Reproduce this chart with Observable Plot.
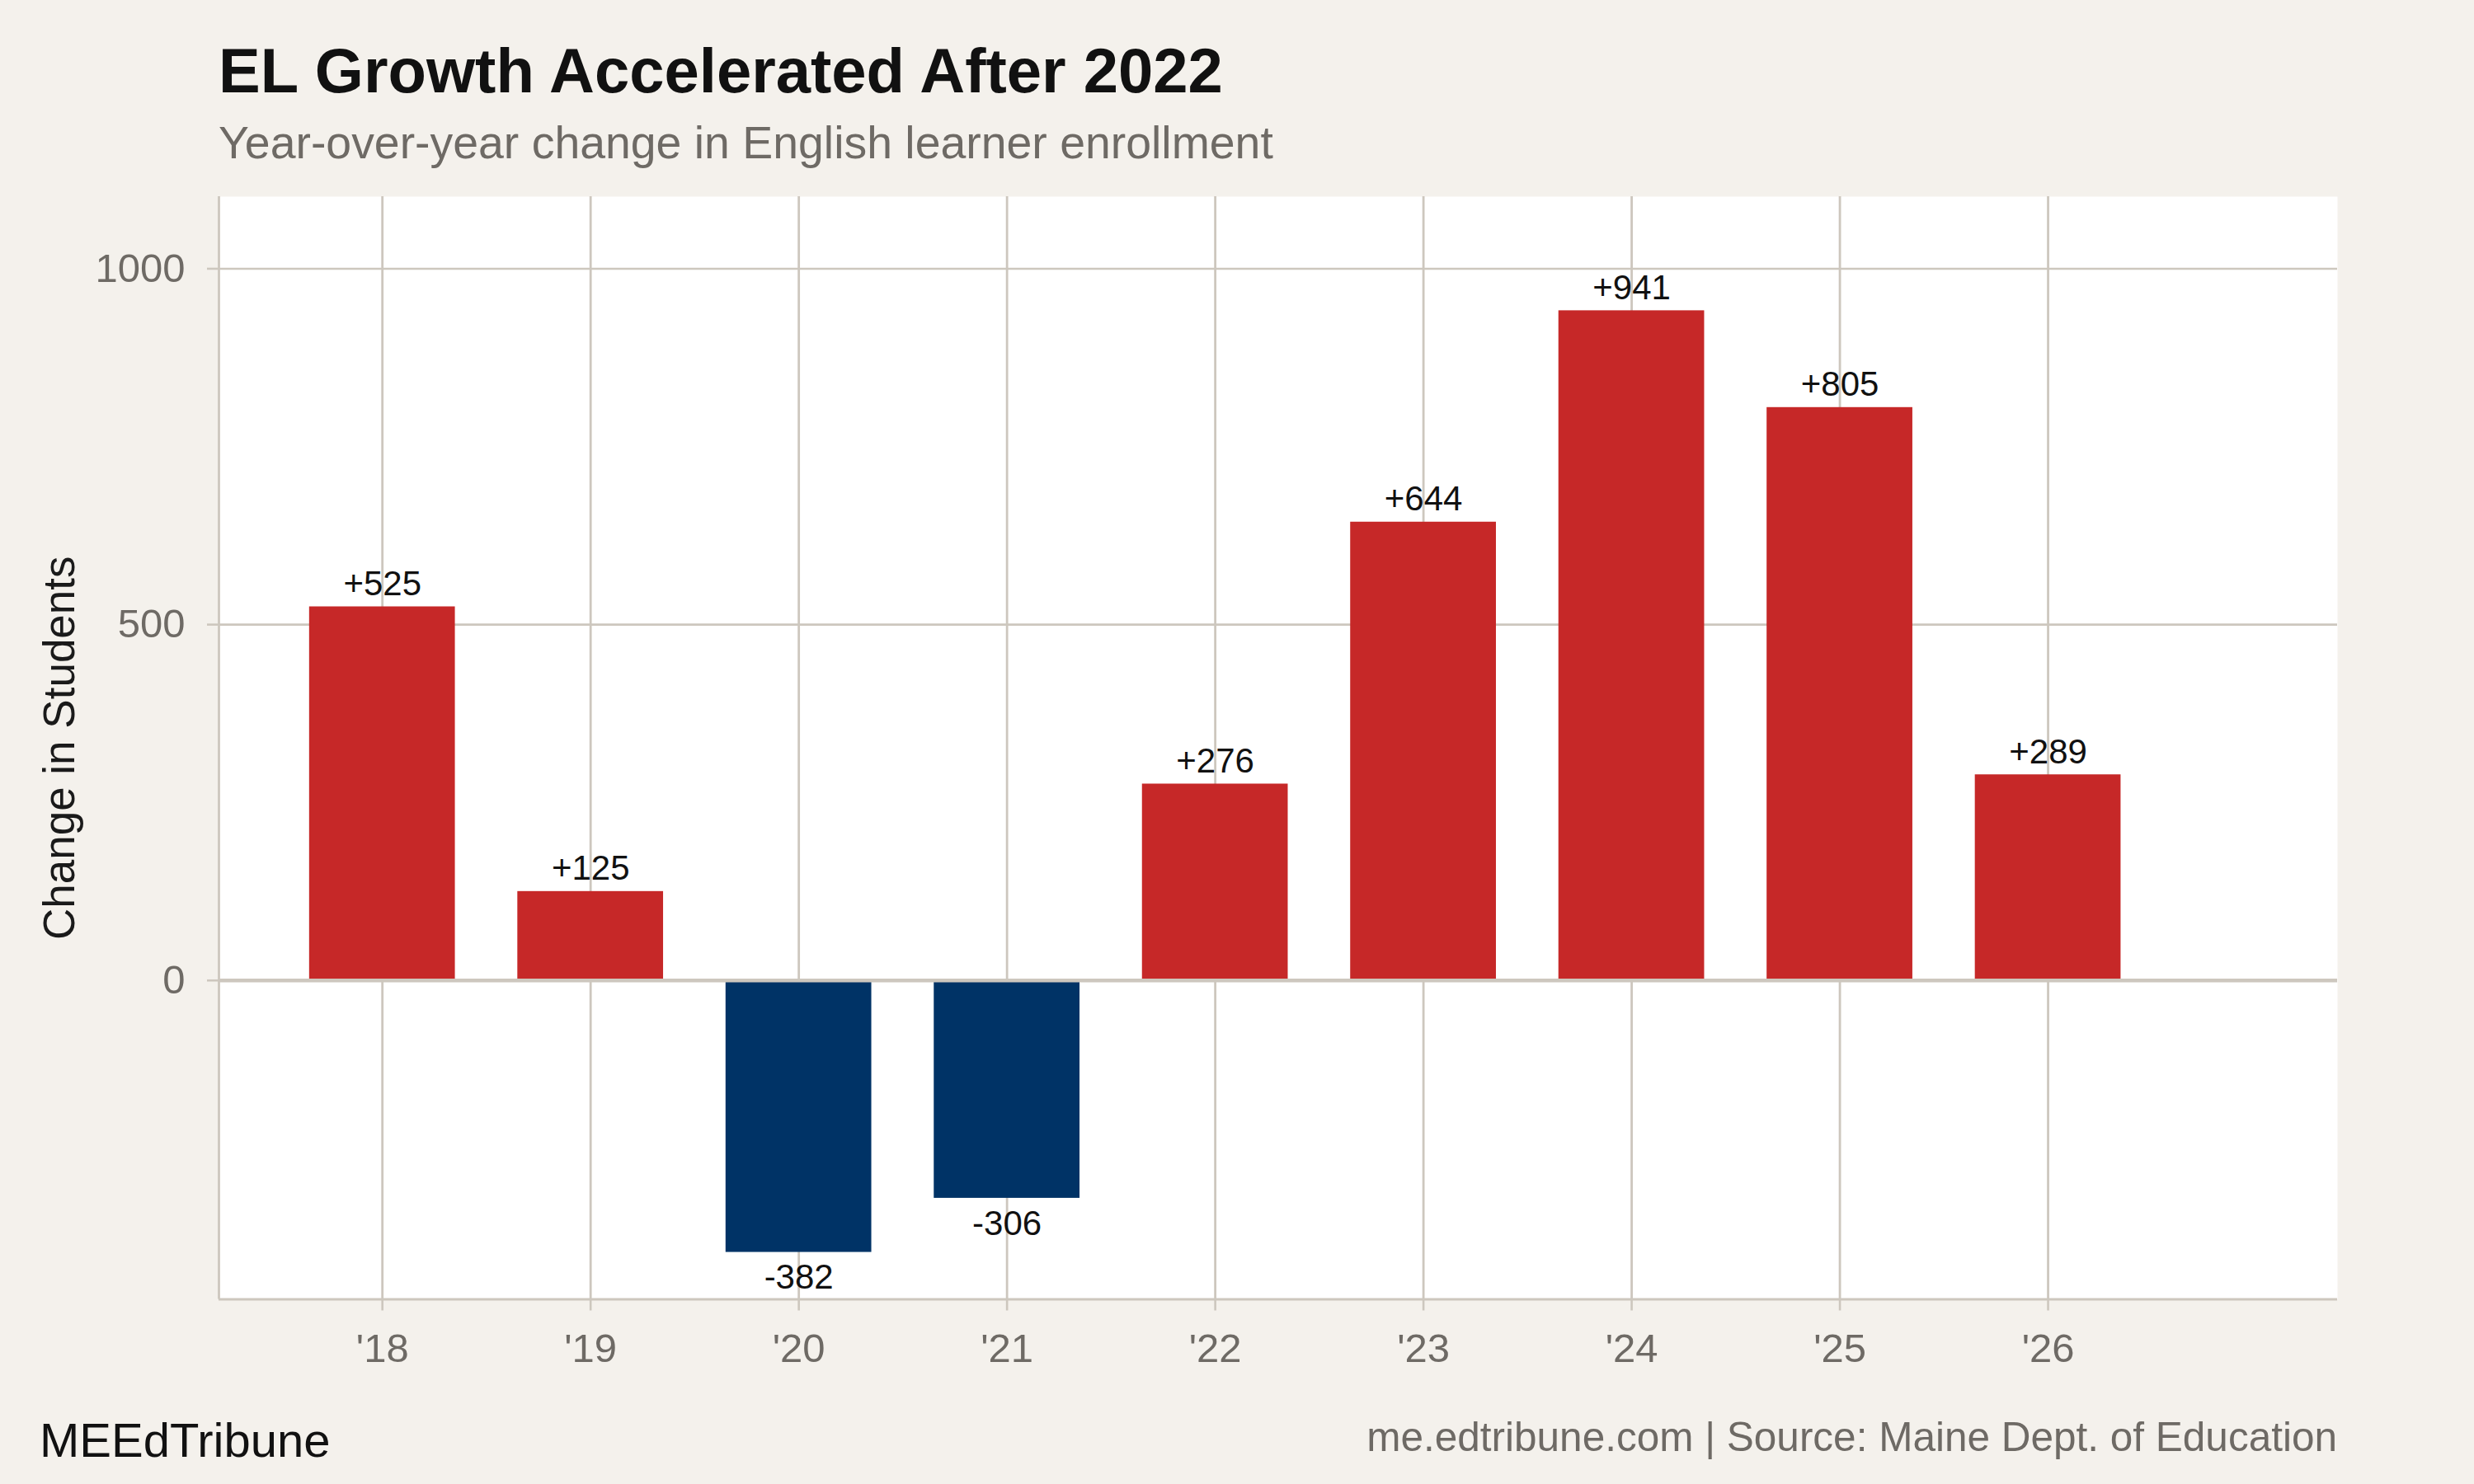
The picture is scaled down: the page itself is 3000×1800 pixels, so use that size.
<!DOCTYPE html>
<html>
<head>
<meta charset="utf-8">
<script src="https://cdn.jsdelivr.net/npm/d3@7"></script>
<script src="https://cdn.jsdelivr.net/npm/@observablehq/plot@0.6"></script>
<style>
  html, body { margin: 0; padding: 0; background: #f4f1ec; }
  #page {
    position: relative;
    width: 3000px;
    height: 1800px;
    background: #f4f1ec;
    font-family: "Liberation Sans", Arial, Helvetica, sans-serif;
    overflow: hidden;
  }
  #page .txt { position: absolute; line-height: 1; white-space: nowrap; margin: 0; }
  #title { left: 265px; top: 48px; font-size: 76px; font-weight: bold; color: #111111; }
  #subtitle { left: 265px; top: 145.5px; font-size: 55.4px; color: #6e6a65; }
  #brand { left: 48px; top: 1718px; font-size: 58px; color: #111111; }
  #source { right: 166px; top: 1718px; font-size: 49.5px; color: #6e6a65; }
  #chart { position: absolute; left: 0; top: 0; }
</style>
</head>
<body>
<div id="page">
  <div id="chart"></div>
  <div class="txt" id="title">EL Growth Accelerated After 2022</div>
  <div class="txt" id="subtitle">Year-over-year change in English learner enrollment</div>
  <div class="txt" id="brand">MEEdTribune</div>
  <div class="txt" id="source">me.edtribune.com | Source: Maine Dept. of Education</div>
</div>
<script>
// School years (spring of the year) and the change in English learners
const years = [2018, 2019, 2020, 2021, 2022, 2023, 2024, 2025, 2026];
const tickLabels = ["'18", "'19", "'20", "'21", "'22", "'23", "'24", "'25", "'26"];
const changes = [525, 125, -382, -306, 276, 644, 941, 805, 289];
const yTicks = [0, 500, 1000];
const yTitle = "Change in Students";

const rows = years.map((year, i) => ({
  year,
  change: changes[i],
  label: changes[i] > 0 ? `+${changes[i]}` : `${changes[i]}`
}));

const RED = "#c62828";
const BLUE = "#003366";
const GRID = "#cdc7be";
const AXIS_TEXT = "#6e6a65";
const half = 0.35; // half bar width, in years

const xDomain = [2017.215, 2027.39];
const yDomain = [-448, 1101.3];

const chart = Plot.plot({
  width: 3000,
  height: 1800,
  marginLeft: 265,
  marginRight: 166,
  marginTop: 238,
  marginBottom: 224.5,
  style: {
    background: "transparent",
    fontFamily: "'Liberation Sans', Arial, Helvetica, sans-serif",
    overflow: "visible"
  },
  x: {domain: xDomain},
  y: {domain: yDomain},
  marks: [
    Plot.frame({fill: "white", stroke: null}),
    Plot.gridX(years, {stroke: GRID, strokeOpacity: 1, strokeWidth: 2.8}),
    Plot.gridY(yTicks, {stroke: GRID, strokeOpacity: 1, strokeWidth: 2.6}),
    Plot.rect(rows, {
      filter: d => d.change >= 0,
      x1: d => d.year - half,
      x2: d => d.year + half,
      y1: 0,
      y2: "change",
      fill: RED
    }),
    Plot.rect(rows, {
      filter: d => d.change < 0,
      x1: d => d.year - half,
      x2: d => d.year + half,
      y1: 0,
      y2: "change",
      fill: BLUE
    }),
    Plot.ruleY([0], {stroke: GRID, strokeWidth: 4.3}),
    Plot.ruleX([xDomain[0]], {stroke: GRID, strokeWidth: 2.8}),
    Plot.ruleY([yDomain[0]], {stroke: GRID, strokeWidth: 2.8}),
    Plot.axisX(years, {
      tickSize: 14,
      tickPadding: 27,
      tickFormat: d => tickLabels[years.indexOf(d)],
      fontSize: 49,
      fill: AXIS_TEXT,
      stroke: GRID,
      strokeWidth: 2.6,
      label: null
    }),
    Plot.axisY(yTicks, {
      tickSize: 14,
      tickPadding: 27,
      tickFormat: d => String(d),
      fontSize: 49,
      fill: AXIS_TEXT,
      stroke: GRID,
      strokeWidth: 2.6,
      label: null
    }),
    Plot.text([yTitle], {
      text: d => d,
      frameAnchor: "left",
      rotate: -90,
      textAnchor: "middle",
      lineAnchor: "bottom",
      dx: -176,
      fontSize: 53,
      fill: "#1a1a1a"
    }),
    Plot.text(rows, {
      filter: d => d.change >= 0,
      x: "year",
      y: "change",
      text: "label",
      lineAnchor: "bottom",
      dy: -14,
      fontSize: 42,
      fill: "#111111"
    }),
    Plot.text(rows, {
      filter: d => d.change < 0,
      x: "year",
      y: "change",
      text: "label",
      lineAnchor: "top",
      dy: 14.6,
      fontSize: 42,
      fill: "#111111"
    })
  ]
});

document.getElementById("chart").appendChild(chart);
</script>
</body>
</html>
